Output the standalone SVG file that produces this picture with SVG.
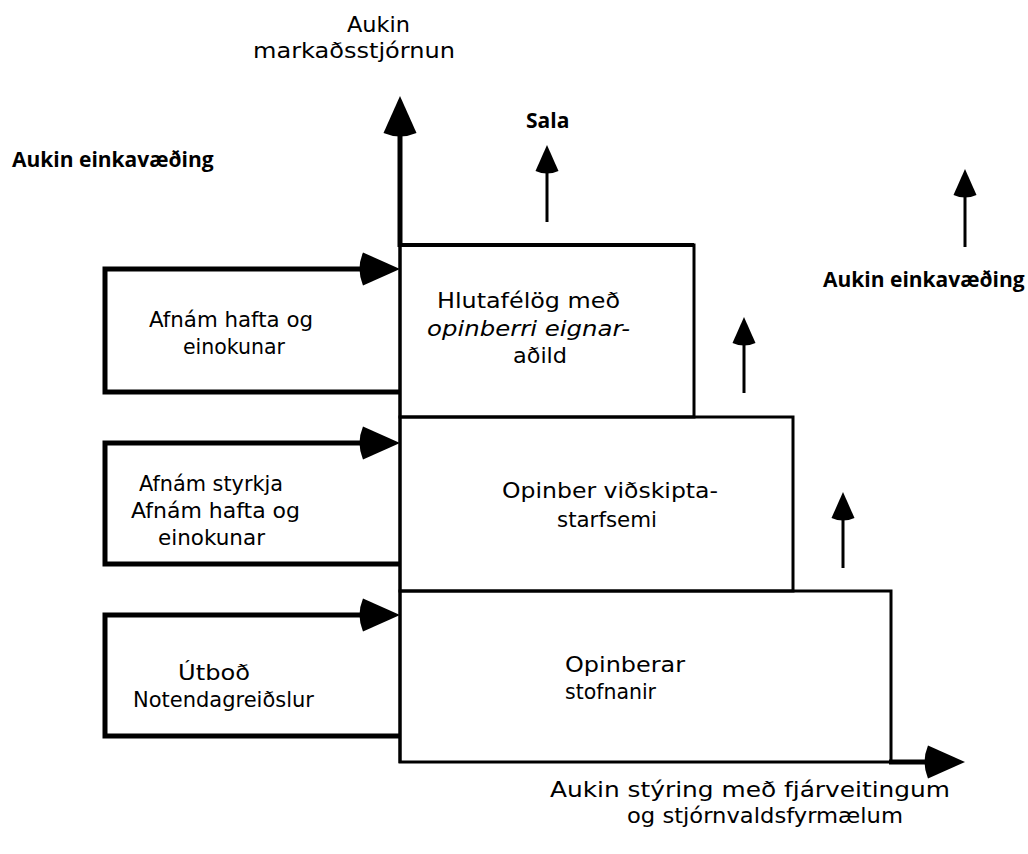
<svg xmlns="http://www.w3.org/2000/svg" width="1028" height="854" viewBox="0 0 1028 854">
  <style>
    .bg { fill: #ffffff; }
    .t { font-family: "DejaVu Sans", "Open Sans", sans-serif; font-size: 22px; fill: #000; }
    .tb { font-family: "Open Sans", "Noto Sans", "DejaVu Sans", sans-serif; font-size: 21px; font-weight: bold; fill: #000; }
    .it { font-style: italic; }
    .box { fill: none; stroke: #000; stroke-width: 3; }
    .axis { fill: none; stroke: #000; stroke-width: 5; }
    .feed { fill: none; stroke: #000; stroke-width: 5; stroke-linejoin: miter; }
    .up { fill: none; stroke: #000; stroke-width: 3; }
    .thin { fill: none; stroke: #000; stroke-width: 3; }
  </style>
  <defs>
    <marker id="headBig" markerUnits="userSpaceOnUse" viewBox="-6 -18 46 36" refX="0" refY="0" markerWidth="46" markerHeight="36" orient="auto">
      <path d="M0,-16.5 Q-7,0 0,16.5 L37,0 Z" fill="#000"/>
    </marker>
    <marker id="headSmall" markerUnits="userSpaceOnUse" viewBox="-5 -13 33 26" refX="0" refY="0" markerWidth="33" markerHeight="26" orient="auto">
      <path d="M0,-11.5 Q-5,0 0,11.5 L26,0 Z" fill="#000"/>
    </marker>
  </defs>

  <rect class="bg" x="0" y="0" width="1028" height="854"/>

  <!-- axis labels -->
  <g id="label-market">
    <text class="t"><tspan x="347" y="32" textLength="63" lengthAdjust="spacingAndGlyphs">Aukin</tspan><tspan x="253" y="58" textLength="202" lengthAdjust="spacingAndGlyphs">markaðsstjórnun</tspan></text>
  </g>
  <g id="label-left">
    <text class="tb" x="12" y="167">Aukin einkavæðing</text>
  </g>
  <g id="label-sala">
    <text class="tb" x="526" y="128">Sala</text>
  </g>
  <g id="label-right">
    <text class="tb" x="823" y="287">Aukin einkavæðing</text>
  </g>
  <g id="label-budget">
    <text class="t"><tspan x="550" y="797" textLength="400" lengthAdjust="spacingAndGlyphs">Aukin stýring með fjárveitingum</tspan><tspan x="627" y="823" textLength="276" lengthAdjust="spacingAndGlyphs">og stjórnvaldsfyrmælum</tspan></text>
  </g>

  <!-- stacked public-sector tiers -->
  <g id="tier-hlutafelog">
    <rect class="box" x="400" y="245" width="294" height="172"/>
    <line x1="400" y1="245" x2="694" y2="245" stroke="#000" stroke-width="4"/>
    <text class="t"><tspan x="437" y="308" textLength="183" lengthAdjust="spacingAndGlyphs">Hlutafélög með</tspan><tspan class="it" x="427" y="336" textLength="203" lengthAdjust="spacingAndGlyphs">opinberri eignar-</tspan><tspan x="513" y="363" textLength="54" lengthAdjust="spacingAndGlyphs">aðild</tspan></text>
  </g>
  <g id="tier-vidskipti">
    <rect class="box" x="400" y="417" width="393" height="174"/>
    <text class="t"><tspan x="502" y="498" textLength="216" lengthAdjust="spacingAndGlyphs">Opinber viðskipta-</tspan><tspan x="557" y="527" textLength="100" lengthAdjust="spacingAndGlyphs">starfsemi</tspan></text>
  </g>
  <g id="tier-stofnanir">
    <rect class="box" x="400" y="591" width="491" height="171"/>
    <text class="t"><tspan x="565" y="672" textLength="120" lengthAdjust="spacingAndGlyphs">Opinberar</tspan><tspan x="565" y="699" textLength="91" lengthAdjust="spacingAndGlyphs">stofnanir</tspan></text>
  </g>

  <!-- measures feeding into the tiers -->
  <g id="measure-1">
    <path class="feed" d="M400,392 H105 V269 H363" marker-end="url(#headBig)"/>
    <text class="t"><tspan x="149" y="327" textLength="164" lengthAdjust="spacingAndGlyphs">Afnám hafta og</tspan><tspan x="183" y="354" textLength="102" lengthAdjust="spacingAndGlyphs">einokunar</tspan></text>
  </g>
  <g id="measure-2">
    <path class="feed" d="M400,564 H105 V443 H363" marker-end="url(#headBig)"/>
    <text class="t"><tspan x="139" y="491" textLength="144" lengthAdjust="spacingAndGlyphs">Afnám styrkja</tspan><tspan x="131" y="518" textLength="169" lengthAdjust="spacingAndGlyphs">Afnám hafta og</tspan><tspan x="158" y="545" textLength="107" lengthAdjust="spacingAndGlyphs">einokunar</tspan></text>
  </g>
  <g id="measure-3">
    <path class="feed" d="M400,736 H105 V615 H363" marker-end="url(#headBig)"/>
    <text class="t"><tspan x="178" y="680" textLength="72" lengthAdjust="spacingAndGlyphs">Útboð</tspan><tspan x="133" y="707" textLength="181" lengthAdjust="spacingAndGlyphs">Notendagreiðslur</tspan></text>
  </g>

  <!-- axes and upward arrows -->
  <g id="connectors">
    <line class="axis" x1="400" y1="247" x2="400" y2="133" marker-end="url(#headBig)"/>
    <line class="thin" x1="400" y1="245" x2="400" y2="763"/>
    <line class="axis" x1="889" y1="762" x2="928" y2="762" marker-end="url(#headBig)"/>
    <line class="up" x1="547" y1="222" x2="547" y2="171" marker-end="url(#headSmall)"/>
    <line class="up" x1="965" y1="247" x2="965" y2="195" marker-end="url(#headSmall)"/>
    <line class="up" x1="744" y1="393" x2="744" y2="343" marker-end="url(#headSmall)"/>
    <line class="up" x1="843" y1="568" x2="843" y2="518" marker-end="url(#headSmall)"/>
  </g>
</svg>
